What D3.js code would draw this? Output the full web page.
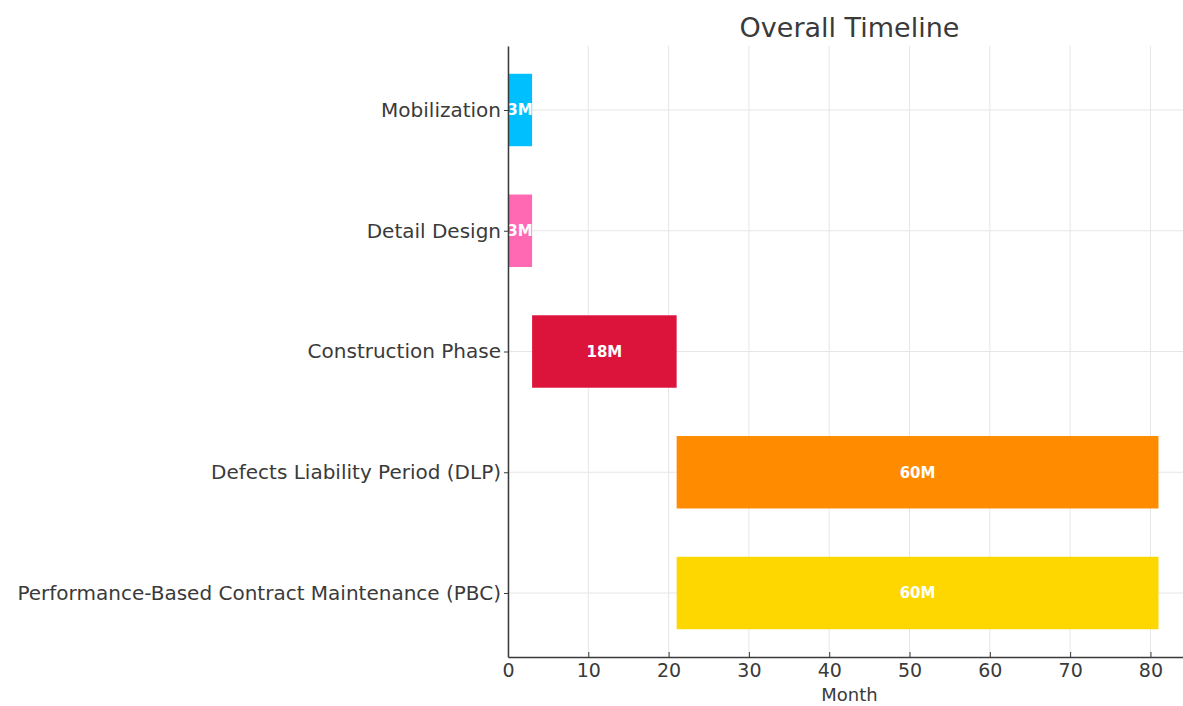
<!DOCTYPE html>
<html>
<head>
<meta charset="utf-8">
<script src="https://cdn.jsdelivr.net/npm/d3@7"></script>
<style>
  html, body { margin: 0; padding: 0; background: #ffffff; }
  svg { display: block; font-family: "DejaVu Sans", sans-serif; }
</style>
</head>
<body>
<svg id="chart" width="1183" height="706"></svg>
<script>
// Project phases, their start month and duration in months
const phases = [
  "Mobilization",
  "Detail Design",
  "Construction Phase",
  "Defects Liability Period (DLP)",
  "Performance-Based Contract Maintenance (PBC)"
];
const starts = [0, 0, 3, 21, 21];
const durations = [3, 3, 18, 60, 60];
const barLabels = ["3M", "3M", "18M", "60M", "60M"];
const colors = ["#00BFFF", "#FF69B4", "#DC143C", "#FF8C00", "#FFD700"];
const xTicks = [0, 10, 20, 30, 40, 50, 60, 70, 80];

const svg = d3.select("#chart");
const margin = { left: 508, right: -8, top: 46, bottom: 49 };
const W = 1183, H = 706;
const plotRight = W - margin.right;
const plotBottom = H - margin.bottom;
const ink = "#3a3a3a";

const xMax = d3.max(starts.map((s, i) => s + durations[i])) * 1.05;
const x = d3.scaleLinear().domain([0, xMax]).range([margin.left, plotRight]);

// matplotlib-like category positions: bar height 0.6, 5% margin on the data extent
const n = phases.length;
const lo = -0.3, hi = n - 1 + 0.3, pad = (hi - lo) * 0.05;
const yPos = d3.scaleLinear().domain([lo - pad, hi + pad]).range([margin.top, plotBottom]);
const barH = yPos(0.6) - yPos(0);

const data = phases.map((p, i) => ({ phase: p, idx: i, start: starts[i], dur: durations[i], label: barLabels[i], color: colors[i] }));

// grid
const grid = svg.append("g");
grid.selectAll("line.v").data(xTicks).join("line")
  .attr("x1", d => x(d)).attr("x2", d => x(d))
  .attr("y1", margin.top).attr("y2", plotBottom)
  .attr("stroke", "#e6e6e6").attr("stroke-width", 1);
grid.selectAll("line.h").data(data).join("line")
  .attr("x1", margin.left).attr("x2", plotRight)
  .attr("y1", d => yPos(d.idx)).attr("y2", d => yPos(d.idx))
  .attr("stroke", "#e6e6e6").attr("stroke-width", 1);

// bars
svg.append("g").selectAll("rect").data(data).join("rect")
  .attr("x", d => x(d.start))
  .attr("width", d => x(d.start + d.dur) - x(d.start))
  .attr("y", d => yPos(d.idx) - barH / 2)
  .attr("height", barH)
  .attr("fill", d => d.color);

// duration labels
svg.append("g").selectAll("text").data(data).join("text")
  .attr("x", d => x(d.start + d.dur / 2))
  .attr("y", d => yPos(d.idx))
  .attr("dy", "0.35em")
  .attr("text-anchor", "middle")
  .attr("fill", "#ffffff")
  .attr("font-weight", "bold")
  .attr("font-size", 15)
  .text(d => d.label);

// x axis
const xAxis = d3.axisBottom(x).tickValues(xTicks).tickSizeInner(-5).tickSizeOuter(0).tickPadding(7);
const gx = svg.append("g").attr("transform", `translate(0,${plotBottom})`).call(xAxis);
gx.select(".domain").attr("stroke", ink).attr("stroke-width", 1.5);
gx.selectAll(".tick line").attr("stroke", ink);
gx.selectAll(".tick text").attr("font-size", 19).attr("fill", ink).attr("font-family", "DejaVu Sans, sans-serif");

// y axis
const yAxis = d3.axisLeft(yPos).tickValues(d3.range(n)).tickFormat(i => phases[i]).tickSizeInner(4).tickSizeOuter(0).tickPadding(3);
const gy = svg.append("g").attr("transform", `translate(${margin.left},0)`).call(yAxis);
gy.select(".domain").attr("stroke", ink).attr("stroke-width", 1.5);
gy.selectAll(".tick line").attr("stroke", ink);
gy.selectAll(".tick text").attr("font-size", 20).attr("fill", ink).attr("font-family", "DejaVu Sans, sans-serif");

// axis title and chart title
svg.append("text")
  .attr("x", (margin.left + plotRight) / 2).attr("y", 701)
  .attr("text-anchor", "middle").attr("font-size", 18).attr("fill", ink)
  .text("Month");
svg.append("text")
  .attr("x", (margin.left + plotRight) / 2).attr("y", 37)
  .attr("text-anchor", "middle").attr("font-size", 27).attr("fill", ink)
  .text("Overall Timeline");
</script>
</body>
</html>
